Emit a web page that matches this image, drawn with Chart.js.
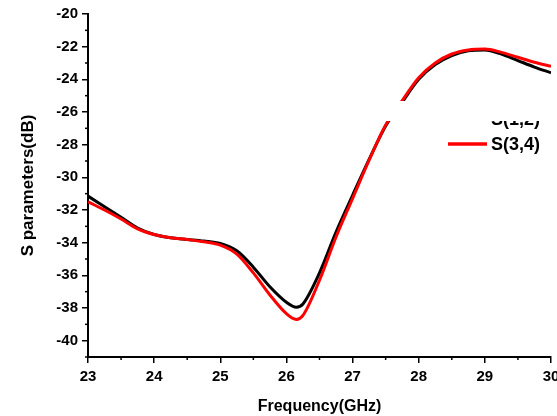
<!DOCTYPE html>
<html>
<head>
<meta charset="utf-8">
<script src="https://cdn.jsdelivr.net/npm/chart.js@4"></script>
<style>
  html, body { margin: 0; padding: 0; background: #fff; }
  #wrap { width: 557px; height: 416px; }
</style>
</head>
<body>
<div id="wrap"><canvas id="grafico"></canvas></div>
<script>
// dados
const freq = [23, 23.25, 23.5, 23.75, 24, 24.25, 24.5, 24.75, 25, 25.25, 25.5, 25.75, 26, 26.15,
  26.25, 26.5, 26.75, 27, 27.25, 27.5, 27.75, 28, 28.25, 28.5, 28.75, 29, 29.25, 29.5, 29.75, 30];
const s12 = [-31.15, -31.8, -32.45, -33.1, -33.5, -33.7, -33.8, -33.9, -34.05, -34.5, -35.5, -36.7, -37.65, -37.95,
  -37.75, -35.85, -33.35, -31.1, -28.9, -26.85, -25.4, -24.0, -23.1, -22.55, -22.25, -22.2, -22.45, -22.85, -23.25, -23.6];
const s34 = [-31.5, -32.0, -32.55, -33.15, -33.5, -33.7, -33.8, -33.95, -34.15, -34.7, -35.85, -37.2, -38.35, -38.7,
  -38.45, -36.3, -33.65, -31.3, -28.95, -26.8, -25.3, -23.9, -23.0, -22.45, -22.2, -22.15, -22.35, -22.65, -22.95, -23.2];
const yTicks = [-40, -38, -36, -34, -32, -30, -28, -26, -24, -22, -20];
const xTicks = [23, 24, 25, 26, 27, 28, 29, 30];

const fonte = '"Liberation Sans", Arial, sans-serif';

const pontos = (ys) => freq.map((f, i) => ({ x: f, y: ys[i] }));

// ticks menores + legenda desenhados à mão
const extras = {
  id: 'extras',
  afterDraw(chart) {
    const c = chart.ctx;
    const xs = chart.scales.x, ys = chart.scales.y;
    c.save();
    c.strokeStyle = '#000';
    c.lineWidth = 1.5;
    for (let v = -41; v <= -20; v++) {
      if (v % 2 === 0) continue;
      const py = ys.getPixelForValue(v);
      c.beginPath(); c.moveTo(xs.left - 3, py); c.lineTo(xs.left, py); c.stroke();
    }
    for (let v = 23.5; v < 30; v++) {
      const px = xs.getPixelForValue(v);
      c.beginPath(); c.moveTo(px, ys.bottom); c.lineTo(px, ys.bottom + 3); c.stroke();
    }
    // legenda
    c.font = 'bold 18px ' + fonte;
    c.textBaseline = 'middle';
    chart.data.datasets.forEach((ds, i) => {
      const y = 119 + i * 25;
      c.strokeStyle = ds.borderColor;
      c.lineWidth = 3.5;
      c.beginPath(); c.moveTo(448, y); c.lineTo(487, y); c.stroke();
      c.fillStyle = '#000';
      c.fillText(ds.label, 491, y + 1);
    });
    // faixa branca que cobre parte da legenda
    c.fillStyle = '#fff';
    c.fillRect(328, 101, 240, 20);
    c.restore();
  }
};

new Chart(document.getElementById('grafico'), {
  type: 'line',
  data: {
    datasets: [
      { label: 'S(1,2)', data: pontos(s12), borderColor: '#000000', borderWidth: 3, order: 2 },
      { label: 'S(3,4)', data: pontos(s34), borderColor: '#ff0000', borderWidth: 3, order: 1 }
    ]
  },
  options: {
    responsive: true,
    maintainAspectRatio: false,
    animation: false,
    layout: { autoPadding: false, padding: { top: 14, right: 6, left: 0, bottom: 0 } },
    elements: {
      point: { radius: 0 },
      line: { cubicInterpolationMode: 'monotone', fill: false }
    },
    scales: {
      x: {
        type: 'linear',
        min: 23,
        max: 30,
        afterBuildTicks: (s) => { s.ticks = xTicks.map(v => ({ value: v })); },
        afterFit: (s) => { s.height = 59; s.paddingLeft = 0; s.paddingRight = 0; },
        border: { display: true, color: '#000', width: 2 },
        grid: { drawOnChartArea: false, tickLength: 6, color: '#000', lineWidth: 1.5 },
        ticks: { color: '#000', padding: 5, maxRotation: 0, font: { family: fonte, size: 15, weight: 'bold' } },
        title: {
          display: true, text: 'Frequency(GHz)', color: '#000',
          padding: { top: 0, bottom: 0 },
          font: { family: fonte, size: 16, weight: 'bold' }
        }
      },
      y: {
        min: -41,
        max: -20,
        afterBuildTicks: (s) => { s.ticks = yTicks.map(v => ({ value: v })); },
        afterFit: (s) => { s.width = 88; },
        border: { display: true, color: '#000', width: 2 },
        grid: { drawOnChartArea: false, tickLength: 6, color: '#000', lineWidth: 1.5 },
        ticks: { color: '#000', padding: 4, font: { family: fonte, size: 15, weight: 'bold' } },
        title: {
          display: true, text: 'S parameters(dB)', color: '#000',
          padding: { top: 18, bottom: 0 },
          font: { family: fonte, size: 17, weight: 'bold' }
        }
      }
    },
    plugins: {
      legend: { display: false },
      tooltip: { enabled: false }
    }
  },
  plugins: [extras]
});
</script>
</body>
</html>
